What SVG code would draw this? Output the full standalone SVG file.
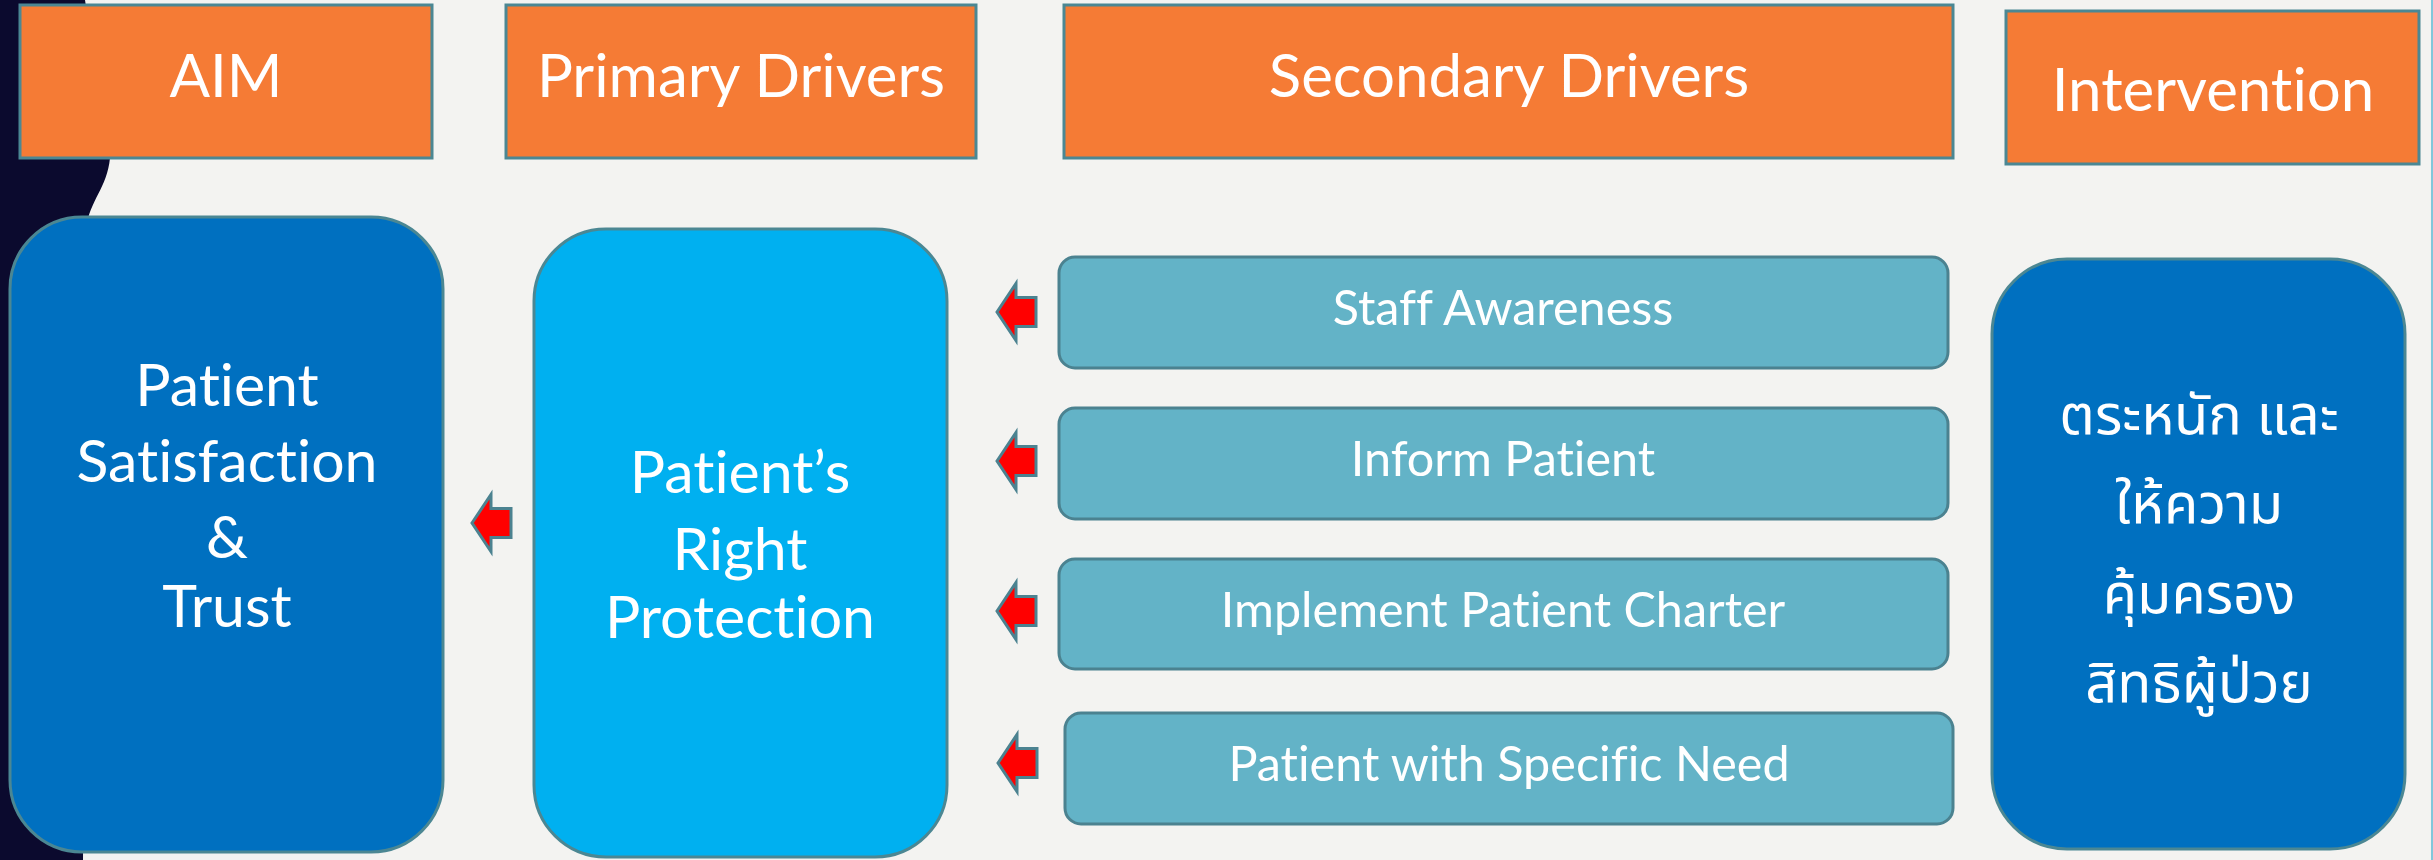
<svg xmlns="http://www.w3.org/2000/svg" width="2433" height="860" viewBox="0 0 2433 860">
  <style>
    text { font-variant-ligatures: none; font-feature-settings: "liga" 0, "dlig" 0; }
    .hdr { fill: #f57b35; stroke: #4b8793; stroke-width: 3; }
    .hdr-t { font-family: Lato, "Noto Sans", sans-serif; font-size: 60px; fill: #ffffff; text-anchor: middle; }
    .big { stroke: #4b8793; stroke-width: 3; }
    .big-t { font-family: Lato, "Noto Sans", sans-serif; font-size: 59px; fill: #ffffff; text-anchor: middle; }
    .sec { fill: #63b3c7; stroke: #4b8290; stroke-width: 3; }
    .sec-t { font-family: Lato, "Noto Sans", sans-serif; font-size: 48.5px; fill: #ffffff; text-anchor: middle; }
    .thai-t { font-family: "Noto Sans Thai", "Noto Sans", "DejaVu Sans", sans-serif; font-size: 56px; fill: #ffffff; text-anchor: middle; }
    .arrow { fill: #ff0000; stroke: #4b8290; stroke-width: 3; stroke-linejoin: miter; }
  </style>
  <defs>
    <!-- left-pointing block arrow, tip at origin -->
    <path id="blockArrow" d="M0,0 L19,-28.5 L19,-14.5 L39,-14.5 L39,14.5 L19,14.5 L19,28.5 Z"/>
  </defs>

  <!-- page background -->
  <rect x="0" y="0" width="2433" height="860" fill="#f3f3f1"/>
  <path d="M0,0 H85 C92,50 113,110 110,158 C107,188 90,200 86,228 L83,860 H0 Z" fill="#0b0a2e"/>
  <line x1="2432" y1="0" x2="2432" y2="860" stroke="#5cb8d3" stroke-width="1.5"/>

  <!-- column headers -->
  <g id="hdr-aim">
    <rect class="hdr" x="20" y="5" width="412" height="153"/>
    <text class="hdr-t" x="226" y="97">AIM</text>
  </g>
  <g id="hdr-primary">
    <rect class="hdr" x="506" y="5" width="470" height="153"/>
    <text class="hdr-t" x="741" y="97">Primary Drivers</text>
  </g>
  <g id="hdr-secondary">
    <rect class="hdr" x="1064" y="5" width="889" height="153"/>
    <text class="hdr-t" x="1509" y="97">Secondary Drivers</text>
  </g>
  <g id="hdr-intervention">
    <rect class="hdr" x="2006" y="11" width="413" height="153"/>
    <text class="hdr-t" x="2213" y="111">Intervention</text>
  </g>

  <!-- aim -->
  <g id="aim">
    <rect class="big" x="10" y="217" width="433" height="635" rx="72" ry="72" fill="#0070c0"/>
    <text class="big-t" x="227" y="406">Patient</text>
    <text class="big-t" x="227" y="482">Satisfaction</text>
    <text class="big-t" x="227" y="558">&amp;</text>
    <text class="big-t" x="227" y="627">Trust</text>
  </g>

  <!-- primary driver -->
  <g id="primary">
    <rect class="big" x="534" y="229" width="413" height="628" rx="72" ry="72" fill="#00b0f0"/>
    <text class="big-t" x="740" y="493">Patient’s</text>
    <text class="big-t" x="740" y="570">Right</text>
    <text class="big-t" x="740" y="638">Protection</text>
  </g>

  <!-- secondary drivers -->
  <g id="sec-staff">
    <rect class="sec" x="1059" y="257" width="889" height="111" rx="16" ry="16"/>
    <text class="sec-t" x="1503" y="325">Staff Awareness</text>
  </g>
  <g id="sec-inform">
    <rect class="sec" x="1059" y="408" width="889" height="111" rx="16" ry="16"/>
    <text class="sec-t" x="1503" y="476">Inform Patient</text>
  </g>
  <g id="sec-charter">
    <rect class="sec" x="1059" y="559" width="889" height="110" rx="16" ry="16"/>
    <text class="sec-t" x="1503" y="627">Implement Patient Charter</text>
  </g>
  <g id="sec-specific">
    <rect class="sec" x="1065" y="713" width="888" height="111" rx="16" ry="16"/>
    <text class="sec-t" x="1509" y="781">Patient with Specific Need</text>
  </g>

  <!-- intervention -->
  <g id="intervention">
    <rect class="big" x="1992" y="259" width="413" height="590" rx="75" ry="75" fill="#0070c0"/>
    <text class="thai-t" x="2199" y="434">ตระหนัก และ</text>
    <text class="thai-t" x="2199" y="523">ให้ความ</text>
    <text class="thai-t" x="2199" y="613">คุ้มครอง</text>
    <text class="thai-t" x="2199" y="702">สิทธิผู้ป่วย</text>
  </g>

  <!-- connectors -->
  <g id="connectors">
    <use href="#blockArrow" class="arrow" x="472" y="523"/>
    <use href="#blockArrow" class="arrow" x="997" y="312"/>
    <use href="#blockArrow" class="arrow" x="997" y="461"/>
    <use href="#blockArrow" class="arrow" x="997" y="611"/>
    <use href="#blockArrow" class="arrow" x="998" y="763"/>
  </g>
</svg>
